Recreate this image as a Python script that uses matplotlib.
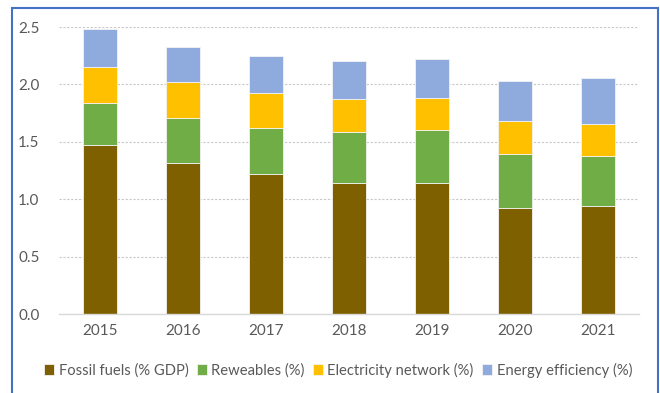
import matplotlib.pyplot as plt
import numpy as np
from matplotlib.patches import Rectangle

plt.rcParams['font.family'] = ['Lato', 'DejaVu Sans']

years = ["2015", "2016", "2017", "2018", "2019", "2020", "2021"]
fossil = [1.47, 1.32, 1.22, 1.145, 1.145, 0.92, 0.94]
renewables = [0.37, 0.39, 0.40, 0.44, 0.46, 0.47, 0.44]
electricity = [0.31, 0.31, 0.31, 0.29, 0.28, 0.29, 0.28]
efficiency = [0.33, 0.31, 0.32, 0.33, 0.34, 0.35, 0.395]

labels = ["Fossil fuels (% GDP)", "Reweables (%)",
          "Electricity network (%)", "Energy efficiency (%)"]
colors = ["#7F6000", "#70AD47", "#FFC000", "#8FAADC"]
grey = "#595959"

fig = plt.figure(figsize=(6.6, 3.93), dpi=100)
ax = fig.add_axes([0.0894, 0.201, 0.879, 0.730])

x = np.arange(len(years))
bottom = np.zeros(len(years))
for vals, col, lab in zip([fossil, renewables, electricity, efficiency], colors, labels):
    ax.bar(x, vals, bottom=bottom, width=0.41, color=col, label=lab,
           edgecolor="#F2F2F2", linewidth=0.6, zorder=3)
    bottom += np.array(vals)

ax.set_xlim(-0.5, len(years) - 0.5)
ax.set_ylim(0, 2.5)
ax.set_yticks(np.arange(0, 2.51, 0.5))
ax.set_yticklabels([f"{v:.1f}" for v in np.arange(0, 2.51, 0.5)])
ax.set_xticks(x)
ax.set_xticklabels(years)
ax.tick_params(axis="both", length=0, labelsize=11, colors=grey)
ax.tick_params(axis="x", pad=7)
ax.tick_params(axis="y", pad=14)
ax.yaxis.grid(True, linestyle=(0, (2, 1.5)), color="#C8C8C8", linewidth=0.8, zorder=0)
for side in ["top", "right", "left"]:
    ax.spines[side].set_visible(False)
ax.spines["bottom"].set_color("#D9D9D9")
ax.spines["bottom"].set_linewidth(1.0)
ax.spines["bottom"].set_zorder(4)

leg = fig.legend(loc="center", bbox_to_anchor=(338 / 660, 1 - 370 / 393), ncol=4,
                 frameon=False, fontsize=10.6, handlelength=0.7, handleheight=0.7,
                 handletextpad=0.3, columnspacing=0.55, borderaxespad=0)
for t in leg.get_texts():
    t.set_color(grey)

# outer chart frame
fig.patches.append(Rectangle((12 / 660, -0.02), 646 / 660, 1 - 8 / 393 + 0.02,
                             transform=fig.transFigure, fill=False,
                             edgecolor="#4472C4", linewidth=1.5))

fig.savefig("out.png", dpi=100)
